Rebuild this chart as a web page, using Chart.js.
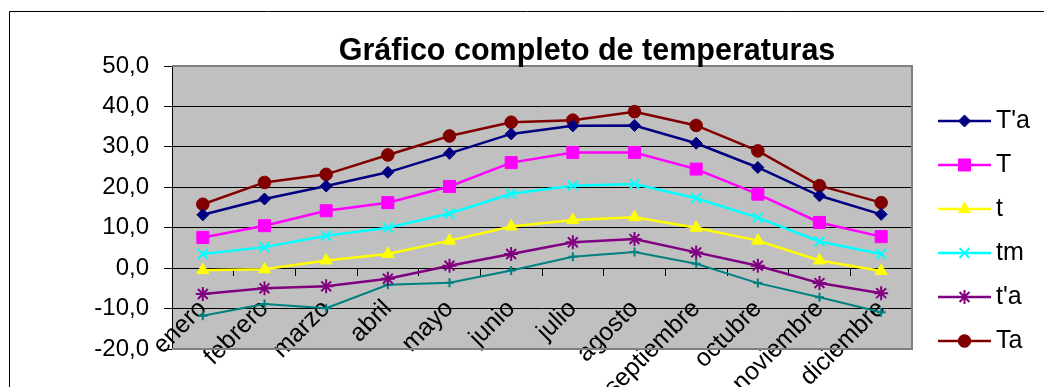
<!DOCTYPE html>
<html>
<head>
<meta charset="utf-8">
<title>Gráfico completo de temperaturas</title>
<style>
  html, body { margin: 0; padding: 0; background: #fff; overflow: hidden; }
  #wrap { position: relative; width: 1044px; height: 387px; }
</style>
<script src="https://cdn.jsdelivr.net/npm/chart.js@4/dist/chart.umd.min.js"></script>
</head>
<body>
<div id="wrap"><canvas id="c" width="1044" height="387"></canvas></div>
<script>
// Meses del año (eje X)
const months = ['enero', 'febrero', 'marzo', 'abril', 'mayo', 'junio',
                'julio', 'agosto', 'septiembre', 'octubre', 'noviembre', 'diciembre'];

// Series de temperatura (°C)
const serieTprimaA = [13.2, 17.1, 20.3, 23.7, 28.4, 33.2, 35.2, 35.3, 30.9, 24.9, 17.9, 13.3]; // T'a
const serieT       = [7.6, 10.5, 14.2, 16.2, 20.2, 26.1, 28.6, 28.6, 24.5, 18.3, 11.3, 7.8];   // T
const serieTmin    = [-0.5, -0.3, 1.9, 3.5, 6.8, 10.3, 11.9, 12.6, 10.0, 6.8, 1.9, -0.7];     // t
const serieTm      = [3.5, 5.2, 8.0, 10.0, 13.5, 18.4, 20.4, 20.8, 17.3, 12.5, 6.6, 3.5];     // tm
const serieTprimaB = [-6.4, -5.0, -4.5, -2.6, 0.6, 3.5, 6.4, 7.2, 3.9, 0.6, -3.7, -6.2];      // t'a
const serieTa      = [15.8, 21.2, 23.2, 28.0, 32.7, 36.1, 36.6, 38.7, 35.3, 29.0, 20.4, 16.2]; // Ta
const serieTaMin   = [-11.8, -8.9, -9.9, -4.1, -3.6, -0.6, 2.8, 4.0, 1.1, -3.7, -7.2, -10.9]; // ta

// Escala vertical
const yMin = -20, yMax = 50, yStep = 10;

const FONT = '"Liberation Sans", Arial, Helvetica, sans-serif';

function lineSeries(label, data, color, style, radius, extra) {
  return Object.assign({
    label, data,
    borderColor: color, backgroundColor: color,
    borderWidth: 2.5,
    pointStyle: style, pointRadius: radius, pointHoverRadius: radius,
    pointBackgroundColor: color, pointBorderColor: color, pointBorderWidth: 1,
    tension: 0, fill: false
  }, extra || {});
}

// Fondo gris del área de trazado, marco exterior y bordes del área
const framePlugin = {
  id: 'frame',
  beforeDraw(chart) {
    const { ctx, chartArea: a, width, height } = chart;
    ctx.save();
    ctx.fillStyle = '#ffffff';
    ctx.fillRect(0, 0, width, height);
    ctx.strokeStyle = '#000000';
    ctx.lineWidth = 1;
    ctx.beginPath();
    ctx.moveTo(9.5, height + 5);
    ctx.lineTo(9.5, 11.5);
    ctx.lineTo(width + 5, 11.5);
    ctx.stroke();
    ctx.fillStyle = '#c0c0c0';
    ctx.fillRect(a.left, a.top, a.right - a.left, a.bottom - a.top);
    ctx.restore();
  },
  beforeDatasetsDraw(chart) {
    const { ctx, chartArea: a } = chart;
    ctx.save();
    ctx.strokeStyle = '#808080';
    ctx.lineWidth = 2;
    ctx.beginPath();
    ctx.moveTo(a.left, a.top);
    ctx.lineTo(a.right, a.top);
    ctx.lineTo(a.right, a.bottom);
    ctx.lineTo(a.left, a.bottom);
    ctx.stroke();
    ctx.restore();
  }
};

// Título y leyenda lateral (línea con marcador)
const titleLegendPlugin = {
  id: 'titleLegend',
  afterDraw(chart, args, opts) {
    const { ctx, chartArea: a } = chart;
    ctx.save();
    ctx.fillStyle = '#000';
    ctx.font = 'bold ' + opts.titleSize + 'px ' + FONT;
    ctx.textAlign = 'center';
    ctx.textBaseline = 'alphabetic';
    ctx.fillText(opts.title, opts.titleX, opts.titleY);

    let y = opts.legendTop;
    chart.data.datasets.forEach(ds => {
      if (ds.hideInLegend) return;
      const x0 = a.right + opts.gap;
      const x1 = x0 + opts.lineLength;
      const xm = (x0 + x1) / 2;
      ctx.strokeStyle = ds.borderColor;
      ctx.lineWidth = ds.borderWidth;
      ctx.beginPath();
      ctx.moveTo(x0, y);
      ctx.lineTo(x1, y);
      ctx.stroke();
      ctx.fillStyle = ds.pointBackgroundColor;
      ctx.strokeStyle = ds.pointBorderColor;
      ctx.lineWidth = ds.pointBorderWidth;
      Chart.helpers.drawPoint(ctx, {
        pointStyle: ds.pointStyle, radius: ds.pointRadius,
        rotation: 0, borderWidth: ds.pointBorderWidth
      }, xm, y);
      ctx.fillStyle = '#000';
      ctx.font = opts.fontSize + 'px ' + FONT;
      ctx.textAlign = 'left';
      ctx.textBaseline = 'middle';
      ctx.fillText(ds.label, x1 + opts.textGap, y);
      y += opts.spacing;
    });
    ctx.restore();
  }
};

new Chart(document.getElementById('c'), {
  type: 'line',
  data: {
    labels: months,
    datasets: [
      lineSeries("T'a", serieTprimaA, '#000080', 'rectRot', 6),
      lineSeries('T', serieT, '#ff00ff', 'rect', 8.5),
      lineSeries('t', serieTmin, '#ffff00', 'triangle', 7),
      lineSeries('tm', serieTm, '#00ffff', 'crossRot', 7, { pointBorderWidth: 2 }),
      lineSeries("t'a", serieTprimaB, '#800080', 'star', 7, { pointBorderWidth: 2 }),
      lineSeries('Ta', serieTa, '#800000', 'circle', 6.3),
      lineSeries('ta', serieTaMin, '#008080', 'cross', 4.5, { pointBorderWidth: 2, borderWidth: 2, hideInLegend: true })
    ]
  },
  options: {
    responsive: false,
    animation: false,
    events: [],
    layout: { padding: { top: 66, right: 132, bottom: 38, left: 0 } },
    plugins: {
      legend: { display: false },
      title: { display: false },
      tooltip: { enabled: false },
      titleLegend: {
        title: 'Gráfico completo de temperaturas',
        titleX: 587, titleY: 60, titleSize: 30.5,
        legendTop: 121, spacing: 44,
        gap: 26, lineLength: 53, textGap: 5, fontSize: 25
      }
    },
    scales: {
      x: {
        position: { y: 0 },
        offset: true,
        ticks: {
          color: '#000', font: { family: FONT, size: 25 },
          minRotation: 45, maxRotation: 45, autoSkip: false,
          padding: 19, labelOffset: 0
        },
        grid: { display: true, drawOnChartArea: false, drawTicks: true, tickLength: 7, offset: true, color: '#000', lineWidth: 1 },
        border: { display: true, color: '#000', width: 1 },
        afterFit(s) { s.paddingLeft = 0; s.paddingRight = 0; }
      },
      y: {
        min: yMin, max: yMax,
        ticks: {
          stepSize: yStep, color: '#000', font: { family: FONT, size: 24 }, padding: 15,
          callback: v => Number(v).toFixed(1).replace('.', ',')
        },
        grid: { color: '#000', lineWidth: 1, tickLength: 8, drawTicks: true },
        border: { display: true, color: '#000', width: 1 },
        afterFit(s) { s.width = 172; s.paddingTop = 0; s.paddingBottom = 0; }
      }
    }
  },
  plugins: [framePlugin, titleLegendPlugin]
});
</script>
</body>
</html>
